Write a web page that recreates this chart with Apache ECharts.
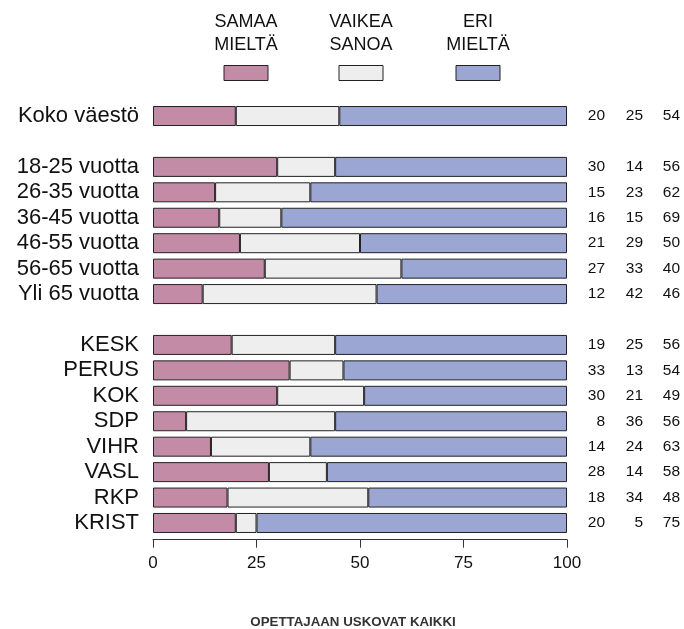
<!DOCTYPE html>
<html>
<head>
<meta charset="utf-8">
<script src="https://cdn.jsdelivr.net/npm/echarts@6/dist/echarts.min.js"></script>
<style>
  html, body { margin: 0; padding: 0; background: #fff; }
  #chart { width: 684px; height: 629px; }
</style>
</head>
<body>
<div id="chart"></div>
<script>
  // rivit, välirivit tyhjinä
  var luokat = ['Koko väestö', ' ', '18-25 vuotta', '26-35 vuotta', '36-45 vuotta', '46-55 vuotta', '56-65 vuotta', 'Yli 65 vuotta', '  ',
    'KESK', 'PERUS', 'KOK', 'SDP', 'VIHR', 'VASL', 'RKP', 'KRIST']
  var samaa = [20, null, 30, 15, 16, 21, 27, 12, null, 19, 33, 30, 8, 14, 28, 18, 20]
  var vaikea = [25, null, 14, 23, 15, 29, 33, 42, null, 25, 13, 21, 36, 24, 14, 34, 5]
  var eri = [54, null, 56, 62, 69, 50, 40, 46, null, 56, 54, 49, 56, 63, 58, 48, 75]
  // sinisen palkin pituus kuvasta luettuna (palkit päättyvät sataan)
  var eriPalkki = [55, null, 56, 62, 69, 50, 40, 46, null, 56, 54, 49, 56, 62, 58, 48, 75]
  var sarjaNimet = ['SAMAA\nMIELTÄ', 'VAIKEA\nSANOA', 'ERI\nMIELTÄ']
  var akseliTikit = [0, 25, 50, 75, 100]
  var otsikko = 'OPETTAJAAN USKOVAT KAIKKI'

  var colorPalette = ['#c48ba6', '#eeeeee', '#9ca6d3']
  var fontti = 'Liberation Sans, Arial, sans-serif'

  var chart = echarts.init(document.getElementById('chart'), null, { renderer: 'canvas' })

  var seriesTemp = []
  var arvot = [samaa, vaikea, eriPalkki]
  for (var i = 0; i < 3; i++) {
    seriesTemp.push({
      name: sarjaNimet[i],
      type: 'bar',
      stack: 'kaikki',
      barWidth: 20,
      data: arvot[i],
      itemStyle: { color: colorPalette[i], borderColor: '#222', borderWidth: 1 },
      emphasis: { disabled: true }
    })
  }

  // selite: teksti yläpuolella, laatikko alla
  var selite = []
  var seliteX = [246, 361, 478]
  for (var j = 0; j < 3; j++) {
    selite.push({
      type: 'text',
      x: seliteX[j], y: 34,
      style: {
        text: sarjaNimet[j], fill: '#111', font: '18px ' + fontti,
        align: 'center', verticalAlign: 'middle', lineHeight: 23
      }
    })
    selite.push({
      type: 'rect',
      shape: { x: seliteX[j] - 22, y: 65.5, width: 44, height: 15 },
      style: { fill: colorPalette[j], stroke: '#222', lineWidth: 1 }
    })
  }
  selite.push({
    type: 'text',
    x: 353, y: 622,
    style: {
      text: otsikko, fill: '#333', font: 'bold 13.3px ' + fontti,
      align: 'center', verticalAlign: 'middle'
    }
  })

  var options = {
    animation: false,
    textStyle: { fontFamily: fontti },
    grid: { left: 153, right: 117, top: 103.3, bottom: 93.3 },
    xAxis: {
      type: 'value',
      min: 0, max: 100, interval: 25,
      offset: 4,
      axisLine: { show: true, lineStyle: { color: '#333', width: 1 } },
      axisTick: { show: true, length: 8, lineStyle: { color: '#333' } },
      axisLabel: {
        margin: 15, fontSize: 17, color: '#111',
        formatter: function (v) { return akseliTikit.indexOf(v) > -1 ? String(v) : '' }
      },
      splitLine: { show: false }
    },
    yAxis: [{
      type: 'category',
      data: luokat,
      inverse: true,
      axisLine: { show: false },
      axisTick: { show: false },
      axisLabel: { interval: 0, margin: 14, fontSize: 22, color: '#111' }
    }, {
      type: 'category',
      data: luokat,
      inverse: true,
      position: 'right',
      axisLine: { show: false },
      axisTick: { show: false },
      axisLabel: {
        interval: 0,
        margin: 0,
        formatter: function (v, idx) {
          if (samaa[idx] == null) return ''
          return '{a|' + samaa[idx] + '}{b|' + vaikea[idx] + '}{c|' + eri[idx] + '}'
        },
        rich: {
          a: { width: 38, align: 'right', fontSize: 15.5, color: '#111' },
          b: { width: 38, align: 'right', fontSize: 15.5, color: '#111' },
          c: { width: 37, align: 'right', fontSize: 15.5, color: '#111' }
        }
      }
    }],
    graphic: selite,
    series: seriesTemp
  }

  chart.setOption(options)
</script>
</body>
</html>
